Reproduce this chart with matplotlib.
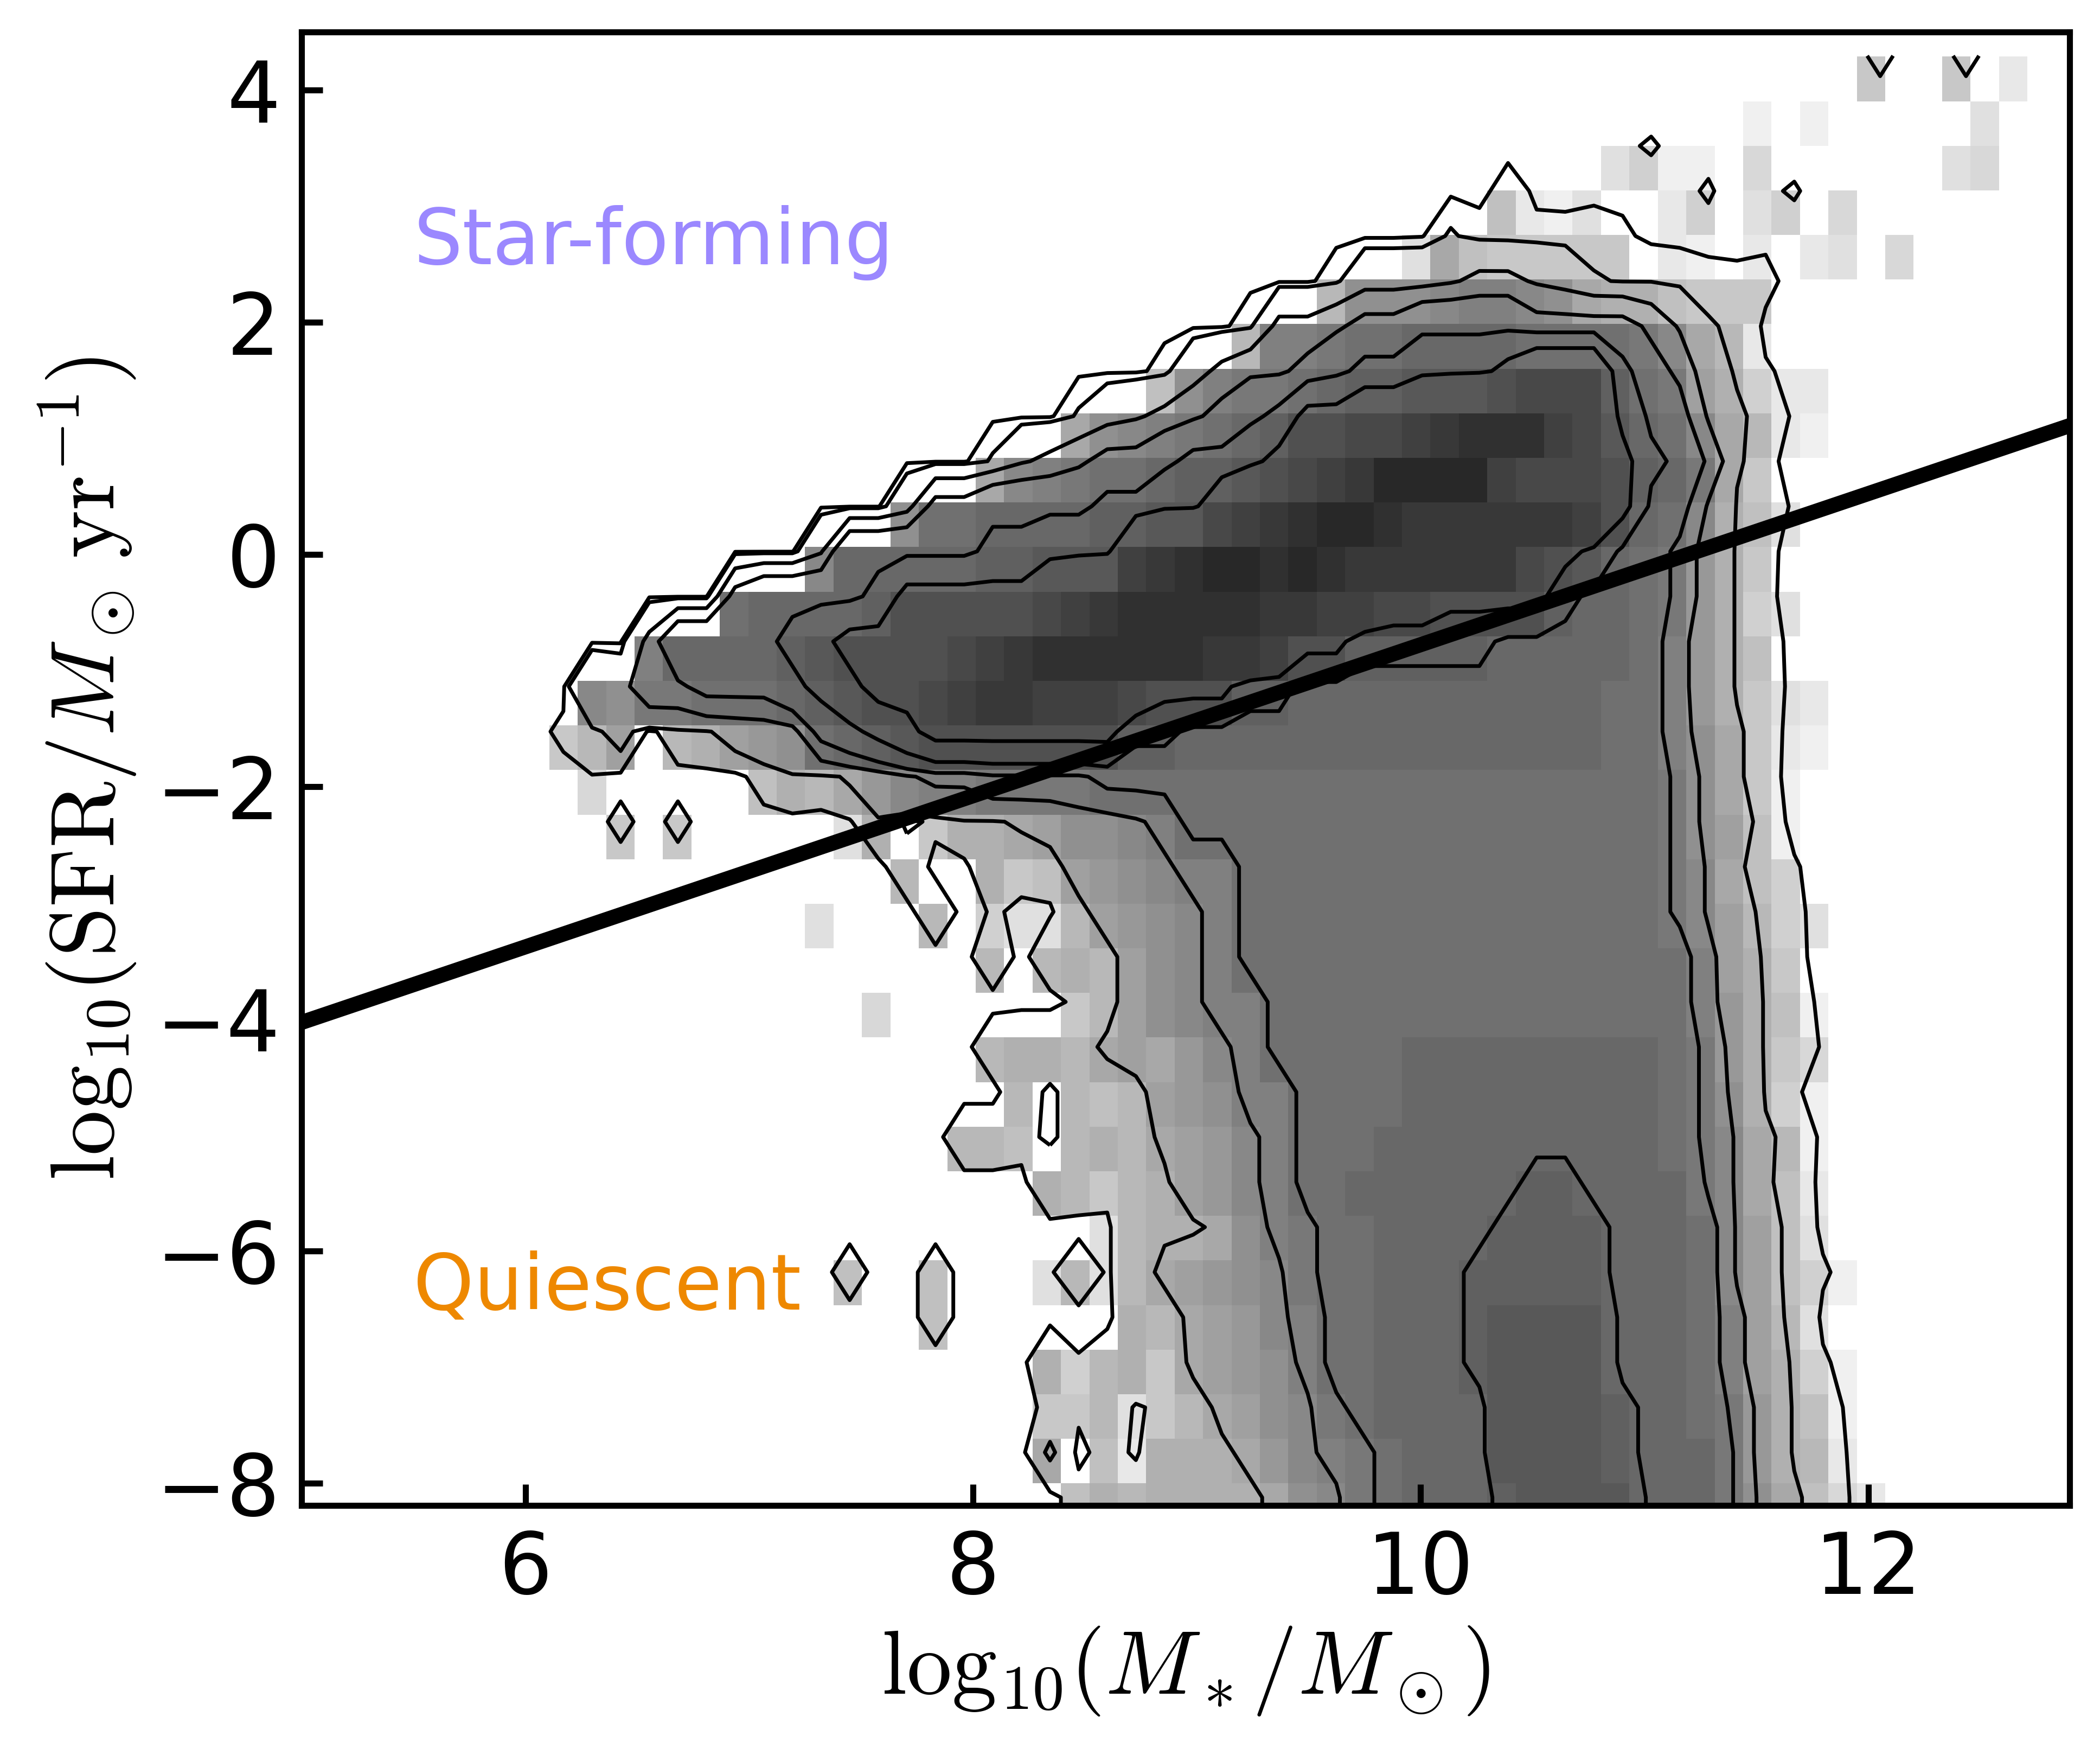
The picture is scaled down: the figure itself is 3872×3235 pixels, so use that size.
import numpy as np
import matplotlib
matplotlib.use("Agg")
import matplotlib.pyplot as plt

plt.rcParams['mathtext.fontset'] = 'cm'

# cell shades, top row first: (first column, gray/8 in base 32)
density_rows = [
    (46, "p..p.t"),
    (42, "u.u.....s"),
    (37, "squu.r......sr"),
    (33, "otus..tq.sq.r"),
    (30, "sloppppp.tu.t.ts.r"),
    (27, "niiihgghilmmoppp"),
    (24, "nggfeeddddeeeefhlnt"),
    (21, "oigffedccbbba999cefkmqtt"),
    (18, "lihgfedcaa998766689bdehlntu"),
    (15, "lhgfeedccba98755558999acdflp"),
    (12, "ieeddddccbb9876556777777" "8adehmos"),
    (9, "hdddddccbbb87655656777777" "9abdefjmp"),
    (6, "eddddcaaaaa98766666778899aaaacddefjmqs"),
    (3, "gddddcbaaaa987666666778aacccccdddddegjmo"),
    (1, "hiffeeedcbaa98778889aaaccdddddddddddeegjmpst"),
    (0, "pnk.nmkjiedcbaaaaaaaccdddddddddddddddeegilptu"),
    (1, "r.....omnljhggffffeeeeeeeeeeeeeeeeeeeefilpu"),
    (2, "p.p.....sm.pmmlkiihgeeeeeeeeeeeeeeeeefikou"),
    (12, "n..mpokjihggeeeeeeeeeeeeeeefhloq"),
    (9, "s...n.qssnkjihg" "eeeeeeeeeeeeeee" "fhknqs"),
    (15, "n.nmnkihgeeeeeeeeeeeeeeeegkmp"),
    (11, "r......pnkihggeeeeeeeeeeeeeeegjmou"),
    (15, "nmmnlkljhgeeeeedddddddddefjmpr"),
    (16, "n.nonkjiggeeeedddddddddefimqu"),
    (14, "nno.nmnlkjhgeeeddddddddddefhlnu"),
    (17, "mnpnmkjhgeeddddddccddddfhlot"),
    (19, "snmmligfeeddddccccdddehkos"),
    (10, "o..o...snsnlkjihfeedddcccccdddehkoqu"),
    (13, "o......mnlkjhgeedddcbbbbdddegkns"),
    (17, "mqnmplkjigeedddcbbbbdddegkmqu"),
    (17, "ppnspnlkihfeddddbbbbcddefjmou"),
    (17, "l.otmmmljhgfedddbbbbcdddfjmnt"),
    (18, "omnmmmmlihfedddcbbbbdddfilort"),
    (18, "omnmmmmlihfedddcbbbbdddfilort"),
]

# contour levels in counts
contour_levels = [6.9, 45, 273, 575, 1259, 2600]

n_cols = 52
n_rows = len(density_rows)

gray = np.full((n_rows, n_cols), np.nan)
for r, (first, values) in enumerate(density_rows):
    for i, c in enumerate(values):
        if c != '.':
            gray[r, first + i] = int(c, 32) * 8

x_edges = 6.107 + 0.127 * np.arange(n_cols + 1)
y_edges = 4.288 - 0.384 * np.arange(n_rows + 1)

# the contours sit on their own slightly different grid
counts = np.where(np.isnan(gray), 0, 10 ** ((255 - np.nan_to_num(gray)) / 50))
counts = np.pad(counts, ((0, 0), (1, 1)))
x_contour = 6.17 + 0.1279 * np.arange(-1, n_cols + 1)
y_contour = -7.733 + (31 - np.arange(n_rows)) * 0.388

fig = plt.figure(figsize=(9.68, 8.0875), dpi=400)
ax = fig.add_axes([556 / 3872, 1 - 2775 / 3235, 3260 / 3872, 2716 / 3235])

ax.pcolormesh(x_edges, y_edges, np.ma.masked_invalid(gray), cmap='gray', vmin=0, vmax=255)
ax.contour(x_contour, y_contour[::-1], counts[::-1], levels=contour_levels, colors='k', linewidths=1.25)

sf_x = [5, 12.9]
sf_y = [-4.03, 1.11]
ax.plot(sf_x, sf_y, color='k', lw=5)

ax.text(5.5, 2.5, 'Star-forming', color='#9b88ff', fontsize=25.6)
ax.text(5.5, -6.5, 'Quiescent', color='#ee8800', fontsize=25.6)

ax.set_xlim(5, 12.9)
ax.set_ylim(-8.19, 4.5)
ax.set_xticks([6, 8, 10, 12])
ax.set_yticks([-8, -6, -4, -2, 0, 2, 4])
ax.tick_params(direction='in', length=7, width=2, labelsize=28, pad=8)
ax.tick_params(axis='y', pad=7)
for side in ax.spines.values():
    side.set_linewidth(2)
ax.set_xlabel(r'$\mathrm{log}_{10}(M_*/M_\odot)$', fontsize=30, labelpad=4)
ax.set_ylabel(r'$\mathrm{log}_{10}(\mathrm{SFR}/M_\odot\,\mathrm{yr}^{-1})$', fontsize=30, labelpad=6)

fig.savefig('out.png', dpi=400)
